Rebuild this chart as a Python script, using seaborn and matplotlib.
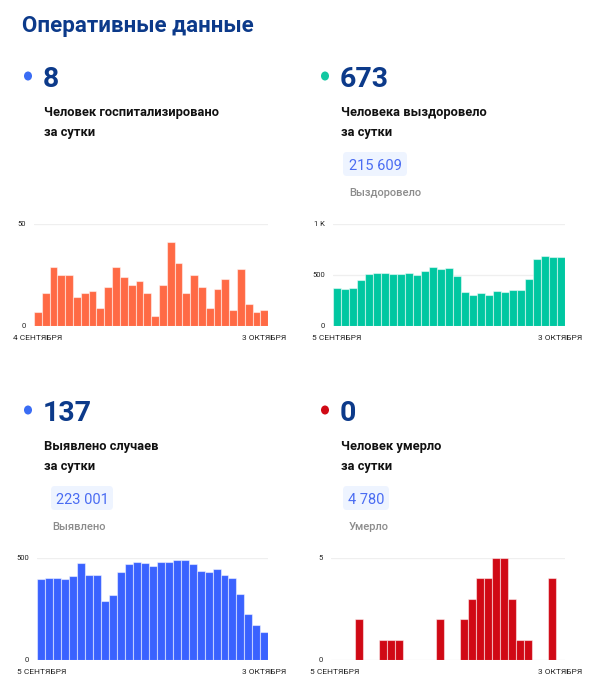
import matplotlib
matplotlib.use("Agg")
import matplotlib.pyplot as plt
from matplotlib.patches import FancyBboxPatch, Circle
import seaborn as sns
import pandas as pd
import numpy as np

# ---------------- data ----------------
hosp_values = [7, 16, 29, 25, 25, 14, 16, 17, 9, 19, 29, 24, 20, 22, 16,
               5, 20, 41, 31, 16, 25, 19, 9, 18, 23, 8, 28, 11, 7, 8]
recov_values = [370, 360, 373, 451, 507, 517, 520, 507, 513, 520, 504, 540,
                579, 559, 566, 487, 337, 304, 324, 304, 343, 337, 353, 356,
                461, 654, 687, 680, 673]
cases_values = [397, 402, 400, 399, 412, 477, 418, 417, 288, 319, 433, 472,
                480, 474, 462, 480, 482, 488, 492, 469, 438, 433, 446, 418,
                400, 325, 227, 172, 137]
death_values = [0, 0, 0, 2, 0, 0, 1, 1, 1, 0, 0, 0, 0, 2, 0, 0, 2, 3, 4, 4,
                5, 5, 3, 1, 1, 0, 0, 4, 0]

hosp_labels = ["4 СЕНТЯБРЯ", "3 ОКТЯБРЯ"]
other_labels = ["5 СЕНТЯБРЯ", "3 ОКТЯБРЯ"]

titles = ["8", "673", "137", "0"]
desc = [["Человек госпитализировано", "за сутки"],
        ["Человека выздоровело", "за сутки"],
        ["Выявлено случаев", "за сутки"],
        ["Человек умерло", "за сутки"]]
totals = [None, "215 609", "223 001", "4 780"]
total_labels = [None, "Выздоровело", "Выявлено", "Умерло"]

y_ticks = [[0, 50], [0, 500, 1000], [0, 500], [0, 5]]
y_tick_labels = [["0", "50"], ["0", "500", "1 K"], ["0", "500"], ["0", "5"]]

# ---------------- style ----------------
sns.set_theme(style="white")
plt.rcParams["font.family"] = ["Roboto", "DejaVu Sans"]

W, H = 604, 699
fig = plt.figure(figsize=(W / 100, H / 100), dpi=100)
fig.patch.set_facecolor("white")

NAVY = "#0c3a8a"
bar_colors = ["#ff6a45", "#00c7a1", "#3a62ff", "#d00915"]
dot_colors = ["#3a6cf4", "#12c8a2", "#3a6cf4", "#d00915"]


def fx(x):
    return x / W


def fy(y):
    return 1 - y / H


# title
fig.text(fx(22), fy(32), "Оперативные данные", fontsize=16, fontweight="bold",
         color=NAVY, va="baseline", ha="left")

col_x = [0, 297, 0, 297]
row_y = [0, 0, 334, 334]
box_x = [None, 343, 51, 343]
box_w = [None, 64, 62, 46]
lab_x = [None, 349, 52, 349]

for i in range(4):
    ox, oy = col_x[i], row_y[i]
    fig.patches.append(Circle((fx(28 + ox), fy(76 + oy)), radius=3.3 / W,
                              transform=fig.transFigure, color=dot_colors[i]))
    fig.text(fx(43 + ox), fy(87 + oy), titles[i], fontsize=20.5,
             fontweight="bold", color=NAVY, va="baseline", ha="left")
    fig.text(fx(44 + ox), fy(116 + oy), desc[i][0], fontsize=9.3,
             fontweight="bold", color="#111111", va="baseline", ha="left")
    fig.text(fx(44 + ox), fy(136 + oy), desc[i][1], fontsize=9.3,
             fontweight="bold", color="#111111", va="baseline", ha="left")
    if totals[i] is not None:
        bx = box_x[i]
        fig.patches.append(FancyBboxPatch(
            (fx(bx), fy(176 + oy)), box_w[i] / W, 24 / H,
            boxstyle="round,pad=0,rounding_size=0.006",
            transform=fig.transFigure, facecolor="#eef4ff", edgecolor="none"))
        fig.text(fx(bx + box_w[i] / 2), fy(170 + oy), totals[i], fontsize=10.5,
                 color="#4a6cf2", va="baseline", ha="center")
        fig.text(fx(lab_x[i]), fy(196 + oy), total_labels[i], fontsize=8,
                 fontweight="medium", color="#8c8c8c", va="baseline", ha="left")

# ---------------- bar charts ----------------
series = [hosp_values, recov_values, cases_values, death_values]
xlabels = [hosp_labels, other_labels, other_labels, other_labels]
ax_left = [34, 333, 37.3, 331]
ax_right = [268.3, 564.5, 268.3, 564.5]
base_y = [326, 326, 660, 660]
top_y = [224, 224, 558, 558]

for i in range(4):
    vals = series[i]
    n = len(vals)
    df = pd.DataFrame({"day": np.arange(n), "value": vals})
    ax = fig.add_axes([fx(ax_left[i]), fy(base_y[i]),
                       (ax_right[i] - ax_left[i]) / W,
                       (base_y[i] - top_y[i]) / H])
    sns.barplot(data=df, x="day", y="value", ax=ax, color=bar_colors[i],
                width=1.0, saturation=1, edgecolor=(1, 1, 1, 0.5),
                linewidth=0.8, zorder=3)
    ymax = y_ticks[i][-1]
    ax.set_ylim(0, ymax)
    ax.set_xlim(-0.5, n - 0.5)
    for t in y_ticks[i]:
        ax.axhline(t, color="#efefef", lw=0.9, zorder=1)
    ax.set_yticks(y_ticks[i])
    ax.set_yticklabels(y_tick_labels[i])
    ax.set_xticks([0, n - 1])
    ax.set_xticklabels(xlabels[i])
    ax.tick_params(axis="y", length=0, pad=6, labelsize=5.5, labelcolor="#222222")
    ax.tick_params(axis="x", length=0, pad=6.5, labelsize=6, labelcolor="#222222")
    ax.set_xlabel("")
    ax.set_ylabel("")
    for s in ax.spines.values():
        s.set_visible(False)
    ax.set_facecolor("none")

fig.savefig("out.png", dpi=100, facecolor="white")
